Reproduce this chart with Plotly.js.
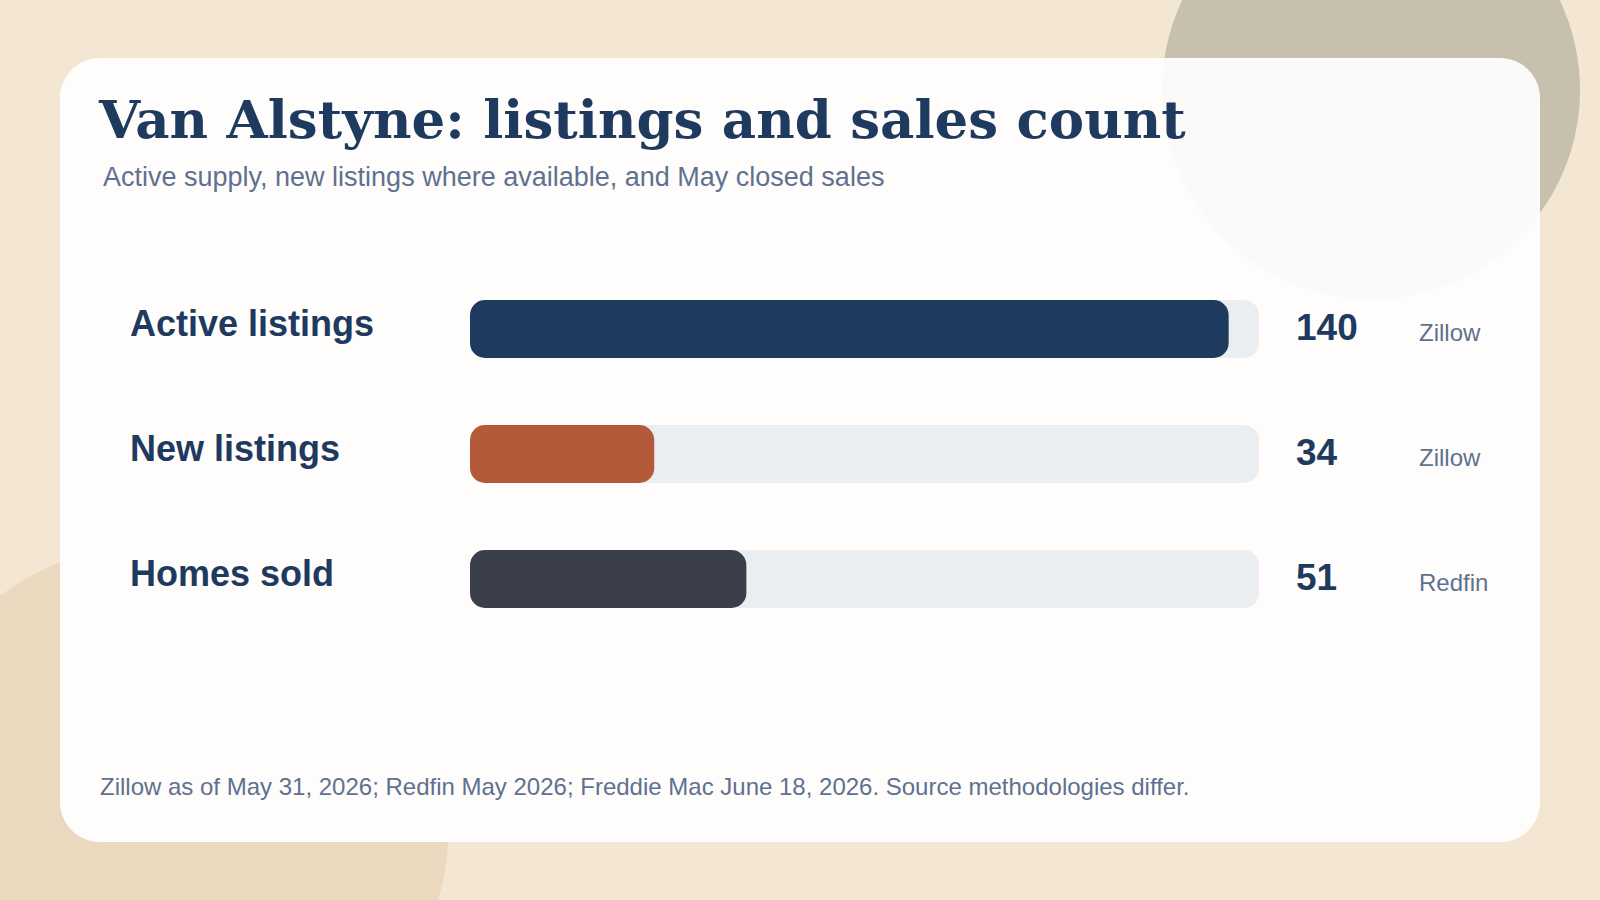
<!DOCTYPE html>
<html>
<head>
<meta charset="utf-8">
<script src="https://cdn.plot.ly/plotly-3.0.1.min.js"></script>
<style>
  html, body { margin: 0; padding: 0; background: #f3e7d3; }
  #chart { width: 1600px; height: 900px; }
</style>
</head>
<body>
<div id="chart"></div>
<script>
// ---- Data ----
const categories = ["Active listings", "New listings", "Homes sold"];
const values = [140, 34, 51];
const sources = ["Zillow", "Zillow", "Redfin"];
const barColors = ["#1f3a5f", "#b35a3b", "#3b3f4a"];

const titleText = "Van Alstyne: listings and sales count";
const subtitleText = "Active supply, new listings where available, and May closed sales";
const footnoteText = "Zillow as of May 31, 2026; Redfin May 2026; Freddie Mac June 18, 2026. Source methodologies differ.";

// ---- Layout helpers (pixel -> paper) ----
const W = 1600, H = 900;
const px = x => x / W;
const py = y => 1 - y / H;

const maxVal = Math.max(...values) * 1.04;
const trackVals = categories.map(() => maxVal);
const zeros = categories.map(() => 0);

function roundedRect(x0, y0, x1, y1, r) {
  const k = 0.5523 * r;
  const P = (x, y) => px(x) + "," + py(y);
  return "M" + P(x0 + r, y0) +
    " L" + P(x1 - r, y0) +
    " C" + P(x1 - r + k, y0) + " " + P(x1, y0 + r - k) + " " + P(x1, y0 + r) +
    " L" + P(x1, y1 - r) +
    " C" + P(x1, y1 - r + k) + " " + P(x1 - r + k, y1) + " " + P(x1 - r, y1) +
    " L" + P(x0 + r, y1) +
    " C" + P(x0 + r - k, y1) + " " + P(x0, y1 - r + k) + " " + P(x0, y1 - r) +
    " L" + P(x0, y0 + r) +
    " C" + P(x0, y0 + r - k) + " " + P(x0 + r - k, y0) + " " + P(x0 + r, y0) + " Z";
}
function circle(cx, cy, r, color) {
  return {type: "circle", xref: "paper", yref: "paper", layer: "below",
    x0: px(cx - r), x1: px(cx + r), y0: py(cy + r), y1: py(cy - r),
    fillcolor: color, line: {width: 0}};
}

const traces = [
  {type: "bar", orientation: "h", y: categories, x: trackVals, base: zeros,
   xaxis: "x", yaxis: "y", width: 0.464, hoverinfo: "skip", showlegend: false,
   marker: {color: "#eaeef1", cornerradius: 15}},
  {type: "bar", orientation: "h", y: categories, x: values, base: zeros,
   xaxis: "x", yaxis: "y2", width: 0.464, hoverinfo: "skip", showlegend: false,
   marker: {color: barColors, cornerradius: 15}}
];

const annotations = [];
annotations.push({xref: "paper", yref: "paper", x: px(96), y: py(119), xanchor: "left", yanchor: "middle",
  text: "<b>" + titleText + "</b>", showarrow: false,
  font: {family: "DejaVu Serif, serif", size: 53, color: "#1f3a5f"}});
annotations.push({xref: "paper", yref: "paper", x: px(101), y: py(177), xanchor: "left", yanchor: "middle",
  text: subtitleText, showarrow: false,
  font: {family: "Liberation Sans, Arial, sans-serif", size: 27, color: "#5f7190"}});
annotations.push({xref: "paper", yref: "paper", x: px(98), y: py(786), xanchor: "left", yanchor: "middle",
  text: footnoteText, showarrow: false,
  font: {family: "Liberation Sans, Arial, sans-serif", size: 24, color: "#5f7190"}});

categories.forEach((c, i) => {
  annotations.push({xref: "paper", yref: "y", x: px(128), y: c, xanchor: "left", yanchor: "middle",
    yshift: 6, text: "<b>" + c + "</b>", showarrow: false,
    font: {family: "Liberation Sans, Arial, sans-serif", size: 36, color: "#1f3a5f"}});
  annotations.push({xref: "paper", yref: "y", x: px(1294), y: c, xanchor: "left", yanchor: "middle",
    yshift: 2, text: "<b>" + values[i] + "</b>", showarrow: false,
    font: {family: "Liberation Sans, Arial, sans-serif", size: 37, color: "#1f3a5f"}});
  annotations.push({xref: "paper", yref: "y", x: px(1417), y: c, xanchor: "left", yanchor: "middle",
    yshift: -3, text: sources[i], showarrow: false,
    font: {family: "Liberation Sans, Arial, sans-serif", size: 24, color: "#5f7190"}});
});

const shapes = [
  circle(1371, 90, 209, "#cac2af"),
  circle(167, 823, 282, "#ebd9bf"),
  {type: "path", xref: "paper", yref: "paper", layer: "below",
   path: roundedRect(60, 58, 1540, 842, 40), fillcolor: "#fefdfb", line: {width: 0}},
  circle(1371, 90, 209, "rgba(170,165,155,0.03)")
];

const yBase = {domain: [py(641.5), py(266.5)], type: "category", categoryorder: "array",
  categoryarray: categories, range: [2.5, -0.5], visible: false, fixedrange: true};

const layout = {
  width: W, height: H,
  margin: {l: 0, r: 0, t: 0, b: 0, pad: 0},
  paper_bgcolor: "#f3e7d3",
  plot_bgcolor: "rgba(0,0,0,0)",
  barmode: "overlay",
  xaxis: {domain: [px(470), px(1259)], range: [0, maxVal], visible: false, fixedrange: true},
  yaxis: Object.assign({}, yBase),
  yaxis2: Object.assign({}, yBase, {overlaying: "y"}),
  shapes: shapes,
  annotations: annotations,
  showlegend: false
};

Plotly.newPlot("chart", traces, layout, {displayModeBar: false, staticPlot: true});
</script>
</body>
</html>
